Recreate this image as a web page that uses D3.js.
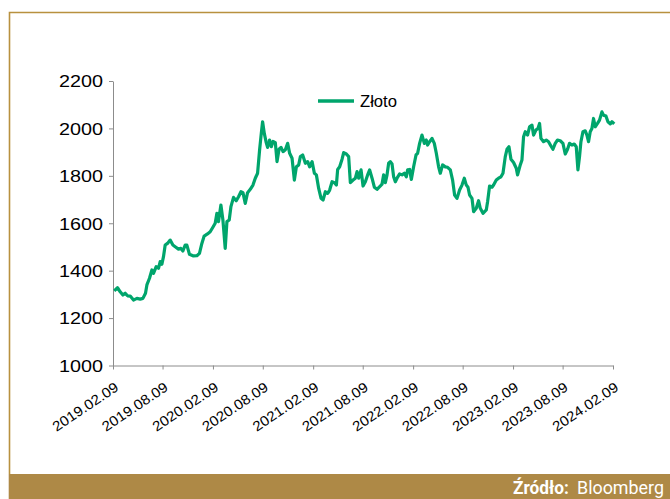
<!DOCTYPE html>
<html>
<head>
<meta charset="utf-8">
<script src="https://cdn.jsdelivr.net/npm/d3@7"></script>
<style>
  body { margin: 0; background: #fff; }
  .axis path, .axis line { stroke: #8c8c8c; }
</style>
</head>
<body>
<div id="chart"></div>
<script>
// Data: dates as decimal years, gold price (Złoto)
var years = [
  2019.119, 2019.152, 2019.179, 2019.206, 2019.229, 2019.252, 2019.279, 2019.312, 2019.346, 2019.379,
  2019.406, 2019.432, 2019.446, 2019.472, 2019.496, 2019.512, 2019.539, 2019.562, 2019.579, 2019.596,
  2019.612, 2019.629, 2019.652, 2019.679, 2019.706, 2019.729, 2019.762, 2019.786, 2019.806, 2019.829,
  2019.846, 2019.872, 2019.912, 2019.946, 2019.972, 2019.996, 2020.019, 2020.052, 2020.079, 2020.106,
  2020.129, 2020.146, 2020.162, 2020.186, 2020.206, 2020.229, 2020.246, 2020.269, 2020.286, 2020.312,
  2020.339, 2020.362, 2020.386, 2020.406, 2020.429, 2020.452, 2020.479, 2020.506, 2020.529, 2020.552,
  2020.572, 2020.589, 2020.602, 2020.619, 2020.636, 2020.652, 2020.672, 2020.689, 2020.706, 2020.729,
  2020.746, 2020.766, 2020.786, 2020.806, 2020.829, 2020.852, 2020.872, 2020.896, 2020.919, 2020.939,
  2020.962, 2020.979, 2021.002, 2021.029, 2021.052, 2021.072, 2021.096, 2021.119, 2021.139, 2021.162,
  2021.186, 2021.206, 2021.229, 2021.252, 2021.272, 2021.296, 2021.319, 2021.339, 2021.352, 2021.372,
  2021.396, 2021.412, 2021.439, 2021.462, 2021.479, 2021.506, 2021.529, 2021.546, 2021.562, 2021.586,
  2021.606, 2021.629, 2021.652, 2021.672, 2021.696, 2021.719, 2021.746, 2021.772, 2021.796, 2021.812,
  2021.829, 2021.846, 2021.862, 2021.879, 2021.896, 2021.912, 2021.929, 2021.946, 2021.972, 2021.996,
  2022.019, 2022.039, 2022.052, 2022.072, 2022.089, 2022.112, 2022.136, 2022.152, 2022.172, 2022.196,
  2022.219, 2022.239, 2022.252, 2022.272, 2022.296, 2022.319, 2022.339, 2022.362, 2022.379, 2022.402,
  2022.429, 2022.452, 2022.479, 2022.502, 2022.522, 2022.546, 2022.572, 2022.596, 2022.619, 2022.639,
  2022.656, 2022.672, 2022.696, 2022.712, 2022.739, 2022.762, 2022.779, 2022.806, 2022.839, 2022.852,
  2022.872, 2022.896, 2022.912, 2022.939, 2022.962, 2022.986, 2023.006, 2023.029, 2023.046, 2023.066,
  2023.086, 2023.112, 2023.139, 2023.152, 2023.179, 2023.196, 2023.212, 2023.229, 2023.252, 2023.272,
  2023.296, 2023.312, 2023.336, 2023.356, 2023.372, 2023.386, 2023.412, 2023.439, 2023.462, 2023.486,
  2023.506, 2023.529, 2023.552, 2023.579, 2023.606, 2023.629, 2023.652, 2023.672, 2023.696, 2023.719,
  2023.739, 2023.756, 2023.772, 2023.786, 2023.806, 2023.829, 2023.846, 2023.862, 2023.879, 2023.896,
  2023.912, 2023.929, 2023.952, 2023.972, 2023.996, 2024.012, 2024.036, 2024.056, 2024.079, 2024.096,
  2024.119
];
var gold = [
  1315, 1328, 1311, 1297, 1305, 1294, 1293, 1276, 1283, 1280,
  1283, 1305, 1340, 1368, 1403, 1389, 1417, 1410, 1438, 1427,
  1459, 1508, 1515, 1529, 1508, 1501, 1491, 1494, 1483, 1508,
  1508, 1469, 1462, 1463, 1473, 1515, 1546, 1555, 1564, 1583,
  1600, 1642, 1607, 1677, 1614, 1494, 1607, 1614, 1670, 1709,
  1695, 1712, 1733, 1729, 1684, 1729, 1743, 1761, 1790, 1811,
  1909, 1979, 2028, 1979, 1944, 1920, 1951, 1923, 1945, 1940,
  1860, 1912, 1920, 1902, 1910, 1937, 1895, 1874, 1782, 1838,
  1846, 1881, 1888, 1853, 1860, 1838, 1860, 1811, 1804, 1747,
  1705, 1698, 1733, 1726, 1740, 1775, 1771, 1761, 1827, 1838,
  1870, 1898, 1892, 1881, 1771, 1782, 1790, 1818, 1790, 1825,
  1757, 1775, 1804, 1825, 1790, 1752, 1743, 1754, 1765, 1804,
  1771, 1804, 1853, 1860, 1850, 1796, 1775, 1790, 1808, 1804,
  1811, 1796, 1825, 1827, 1785, 1838, 1888, 1895, 1937, 1972,
  1937, 1951, 1930, 1944, 1958, 1937, 1895, 1838, 1811, 1846,
  1838, 1836, 1825, 1782, 1719, 1705, 1740, 1761, 1790, 1761,
  1752, 1719, 1705, 1649, 1663, 1695, 1663, 1642, 1656, 1691,
  1757, 1752, 1761, 1782, 1790, 1796, 1811, 1881, 1912, 1923,
  1870, 1856, 1832, 1804, 1846, 1867, 1965, 1986, 1972, 2007,
  2014, 1972, 1993, 2000, 2021, 1958, 1944, 1951, 1944, 1926,
  1912, 1937, 1951, 1948, 1937, 1892, 1912, 1937, 1930, 1934,
  1923, 1825, 1881, 1944, 1986, 1990, 1972, 1944, 1986, 2000,
  2042, 2007, 2021, 2035, 2070, 2056, 2052, 2028, 2019, 2028,
  2019
];
var xTickLabels = [
  "2019.02.09", "2019.08.09", "2020.02.09", "2020.08.09", "2021.02.09", "2021.08.09",
  "2022.02.09", "2022.08.09", "2023.02.09", "2023.08.09", "2024.02.09"
];
var yTicks = [1000, 1200, 1400, 1600, 1800, 2000, 2200];
var seriesName = "Złoto";

var width = 670;
var height = 499;
var gold_c = "#b8913f";
var green = "#00a56c";

// decimal year -> UTC date
function yearToDate(v) {
  var y = Math.floor(v);
  var a = Date.UTC(y, 0, 1);
  var b = Date.UTC(y + 1, 0, 1);
  return new Date(a + (v - y) * (b - a));
}
var parseTick = d3.utcParse("%Y.%m.%d");

var data = years.map(function(v, i) {
  return { date: yearToDate(v), value: gold[i] };
});
var tickDates = xTickLabels.map(parseTick);

var svg = d3.select("#chart")
  .append("svg")
  .attr("width", width)
  .attr("height", height);

// frame: thin gold border and bottom band
svg.append("path")
  .attr("d", "M9.5,474 V12.5 H670")
  .attr("fill", "none")
  .attr("stroke", gold_c)
  .attr("stroke-width", 1.6);

svg.append("rect")
  .attr("x", 8.7)
  .attr("y", 474)
  .attr("width", width - 8.7)
  .attr("height", height - 474)
  .attr("fill", "#ae8946");

var src = svg.append("text")
  .attr("y", 494)
  .attr("fill", "#fff")
  .style("font-family", "'Liberation Sans Narrow', 'Roboto', sans-serif")
  .style("font-size", "18px");
src.append("tspan")
  .attr("x", 513)
  .attr("font-weight", "bold")
  .attr("textLength", 56)
  .attr("lengthAdjust", "spacingAndGlyphs")
  .text("Źródło:");
src.append("tspan")
  .attr("x", 577)
  .attr("textLength", 87)
  .attr("lengthAdjust", "spacingAndGlyphs")
  .text("Bloomberg");

// scales
var x = d3.scaleUtc()
  .domain([tickDates[0], tickDates[tickDates.length - 1]])
  .range([113, 613]);

var y = d3.scaleLinear()
  .domain([1000, 2200])
  .range([365.5, 81]);

// y axis
var yAxis = svg.append("g")
  .attr("class", "axis")
  .attr("transform", "translate(113,0)")
  .call(d3.axisLeft(y).tickValues(yTicks).tickSize(4).tickSizeOuter(0).tickFormat(d3.format("d")));
yAxis.selectAll("text")
  .attr("x", -10)
  .attr("dy", "0.36em")
  .attr("fill", "#000")
  .attr("textLength", 44)
  .attr("lengthAdjust", "spacingAndGlyphs")
  .style("font-family", "'Liberation Sans', Arial, sans-serif")
  .style("font-size", "16px");

// x axis
var xAxis = svg.append("g")
  .attr("class", "axis")
  .attr("transform", "translate(0,365.5)")
  .call(d3.axisBottom(x).tickValues(tickDates).tickSize(4).tickSizeOuter(0)
    .tickFormat(function(d, i) { return xTickLabels[i]; }));
xAxis.selectAll("text")
  .attr("y", 0)
  .attr("dy", 0)
  .attr("text-anchor", "end")
  .attr("transform", "translate(6,24) rotate(-34)")
  .attr("fill", "#000")
  .attr("textLength", 76)
  .attr("lengthAdjust", "spacingAndGlyphs")
  .style("font-family", "'Liberation Sans', Arial, sans-serif")
  .style("font-size", "14px");

// the line
var line = d3.line()
  .x(function(d) { return x(d.date); })
  .y(function(d) { return y(d.value); });

svg.append("path")
  .datum(data)
  .attr("d", line)
  .attr("fill", "none")
  .attr("stroke", green)
  .attr("stroke-width", 3.2)
  .attr("stroke-linejoin", "round");

// legend
svg.append("line")
  .attr("x1", 318)
  .attr("x2", 354)
  .attr("y1", 101)
  .attr("y2", 101)
  .attr("stroke", green)
  .attr("stroke-width", 3.5);

svg.append("text")
  .attr("x", 360)
  .attr("y", 107)
  .attr("fill", "#000")
  .attr("textLength", 37)
  .attr("lengthAdjust", "spacingAndGlyphs")
  .style("font-family", "'Liberation Sans Narrow', 'Liberation Sans', sans-serif")
  .style("font-size", "16px")
  .text(seriesName);
</script>
</body>
</html>
